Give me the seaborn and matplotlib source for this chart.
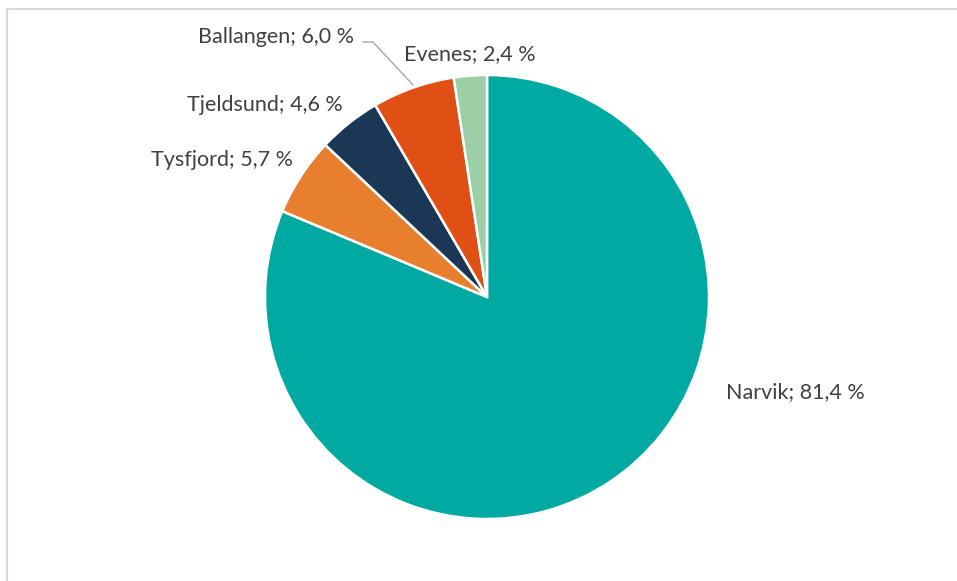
import numpy as np
import seaborn as sns
import matplotlib.pyplot as plt
from matplotlib.lines import Line2D

sns.set_theme(style="white")
plt.rcParams['font.family'] = ['Lato', 'DejaVu Sans']

# Andel per kommune
kommuner = ["Narvik", "Tysfjord", "Tjeldsund", "Ballangen", "Evenes"]
andel = [81.4, 5.7, 4.6, 6.0, 2.4]
farger = ["#00A9A1", "#E87F2F", "#1B3755", "#E04F14", "#9DCFA7"]

# Plassering av etiketter (piksler, x og grunnlinje)
etikett_pos = [(795, 398), (222, 166), (265, 111), (276, 43), (470, 60)]

W, H = 957, 581
fig = plt.figure(figsize=(W / 100, H / 100), dpi=100)
ax = fig.add_axes([0, 0, 1, 1])

ax.pie(andel, colors=farger, startangle=90, counterclock=False,
       center=(487, H - 297), radius=222, normalize=True,
       wedgeprops=dict(edgecolor="white", linewidth=1.8))

ax.set_xlim(0, W)
ax.set_ylim(0, H)
ax.set_aspect("equal")
ax.axis("off")

for navn, verdi, (x, y) in zip(kommuner, andel, etikett_pos):
    tekst = f"{navn}; {verdi:.1f} %".replace(".", ",")
    ax.text(x, H - y, tekst, ha="center", va="baseline",
            fontsize=15.5, color="#404040")

# ledelinje for Ballangen
ax.plot([363, 373, 413], [H - 42, H - 42, H - 85], color="#A6A6A6", lw=1.0)

# ramme
fig.add_artist(Line2D([7.5 / W, 7.5 / W], [0, 1 - 9 / H], color="#D9D9D9", lw=1.5))
fig.add_artist(Line2D([7.5 / W, 1], [1 - 9 / H, 1 - 9 / H], color="#D9D9D9", lw=1.5))

fig.savefig("out.png", dpi=100)
